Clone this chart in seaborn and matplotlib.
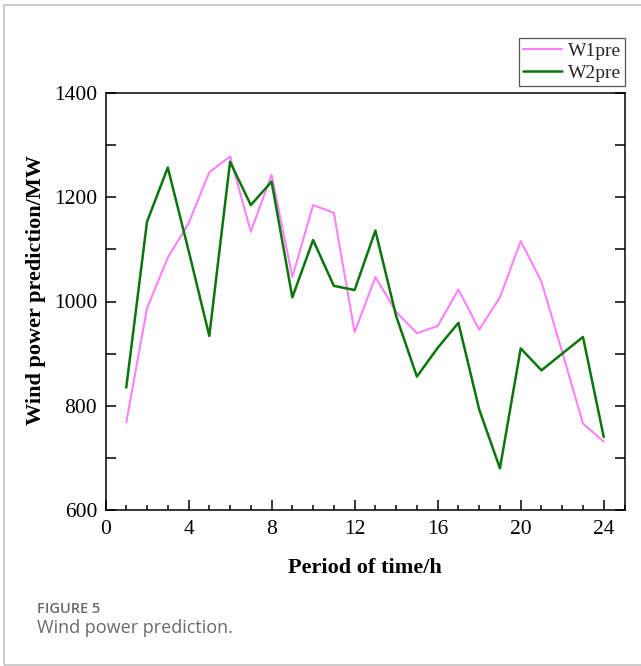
import matplotlib
matplotlib.use("Agg")
import numpy as np
import pandas as pd
import matplotlib.pyplot as plt
import seaborn as sns
from matplotlib.ticker import MultipleLocator, FixedLocator
from matplotlib.patches import Rectangle
from matplotlib.lines import Line2D

# ---- data ----
hours = list(range(1, 25))
w1pre = [768, 987, 1084, 1150, 1248, 1278, 1134, 1243, 1047, 1185, 1170, 941,
         1047, 980, 939, 953, 1023, 946, 1008, 1116, 1038, 903, 766, 731]
w2pre = [835, 1153, 1257, 1098, 934, 1268, 1185, 1230, 1008, 1118, 1030, 1022,
         1136, 972, 856, 911, 959, 793, 680, 910, 868, 900, 932, 740]
series_names = ["W1pre", "W2pre"]
x_ticks = [0, 4, 8, 12, 16, 20, 24]
y_ticks = [600, 800, 1000, 1200, 1400]
x_label = "Period of time/h"
y_label = "Wind power prediction/MW"
caption_head = "FIGURE 5"
caption_text = "Wind power prediction."

colors = {"W1pre": "#ff80ff", "W2pre": "#0b760b"}

sns.set_theme(style="ticks")
plt.rcParams['font.family'] = ['Liberation Serif', 'DejaVu Serif']

W, H = 641, 666
fig = plt.figure(figsize=(W / 100, H / 100), dpi=100)
fig.patch.set_facecolor("white")

ax = fig.add_axes([105.5 / W, 1 - 510 / H, (624.5 - 105.5) / W, (510 - 93) / H])

df = pd.DataFrame({
    "hour": hours * 2,
    "power": w1pre + w2pre,
    "series": [series_names[0]] * len(hours) + [series_names[1]] * len(hours),
})
sns.lineplot(data=df, x="hour", y="power", hue="series", palette=colors,
             ax=ax, linewidth=1.5, legend=False)
ax.lines[1].set_linewidth(1.8)

ax.set_xlim(0, 25)
ax.set_ylim(600, 1400)
ax.xaxis.set_major_locator(FixedLocator(x_ticks))
ax.xaxis.set_minor_locator(MultipleLocator(1))
ax.yaxis.set_major_locator(FixedLocator(y_ticks))
ax.yaxis.set_minor_locator(MultipleLocator(100))

for s in ax.spines.values():
    s.set_linewidth(1.1)
    s.set_color("black")
    s.set_visible(True)

ax.tick_params(axis="both", which="both", direction="in", top=False,
               right=True, color="black", width=1.1)
ax.tick_params(axis="x", which="major", length=7, pad=7, labelsize=15.5)
ax.tick_params(axis="x", which="minor", length=3.5)
ax.tick_params(axis="y", which="major", length=7, pad=6, labelsize=15.5)
ax.tick_params(axis="y", which="minor", length=7)
for t in ax.get_xticklabels() + ax.get_yticklabels():
    t.set_color("black")

ax.set_xlabel(x_label, fontsize=16, fontweight="bold", color="black")
ax.set_ylabel(y_label, fontsize=16, fontweight="bold", color="black")
ax.xaxis.set_label_coords(0.5, -(558 - 510) / 417)
ax.yaxis.set_label_coords((46 - 105.5) / 519, (510 - 290) / 417)

handles = [Line2D([0], [0], color=colors[n], lw=ax.lines[i].get_linewidth())
           for i, n in enumerate(series_names)]
leg = ax.legend(handles, series_names, loc="upper right",
                bbox_to_anchor=(625 / W, 1 - 38 / H), bbox_transform=fig.transFigure,
                frameon=True, fancybox=False, framealpha=1, edgecolor="#555555",
                fontsize=14, handlelength=2.0, handletextpad=0.3,
                borderpad=0.2, labelspacing=0.25, borderaxespad=0)
leg.get_frame().set_linewidth(0.9)

# caption card border
fig.patches.append(Rectangle((4 / W, (H - 665) / H), 1.2, (665 - 5) / H,
                             transform=fig.transFigure, fill=False,
                             edgecolor="#bdbdbd", linewidth=1.1))
fig.text(37 / W, 1 - 602 / H, caption_head, family=["Open Sans", "DejaVu Sans"],
         fontsize=10.5, fontweight="semibold", color="#6a6a6a", va="top", ha="left")
fig.text(37 / W, 1 - 619 / H, caption_text, family=["Open Sans", "DejaVu Sans"],
         fontsize=13, color="#6a6a6a", va="top", ha="left")

fig.savefig("out.png", dpi=100, facecolor="white")
